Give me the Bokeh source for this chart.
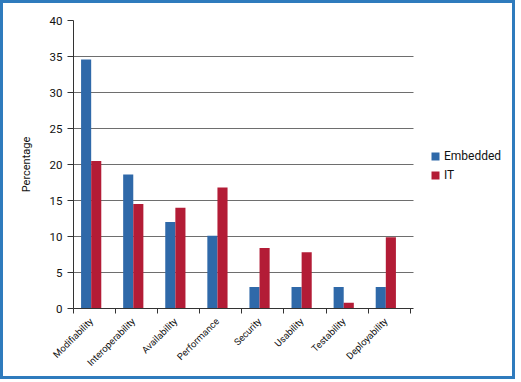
import math
from bokeh.plotting import figure
from bokeh.models import (ColumnDataSource, FixedTicker, Legend, LegendItem,
                          Range1d)
from bokeh.embed import file_html
from bokeh.resources import INLINE

categories = ["Modifiability", "Interoperability", "Availability", "Performance",
              "Security", "Usability", "Testability", "Deployability"]
embedded = [34.6, 18.6, 12.0, 10.1, 3.0, 3.0, 3.0, 3.0]
it = [20.5, 14.5, 14.0, 16.8, 8.4, 7.8, 0.8, 9.9]
y_ticks = [0, 5, 10, 15, 20, 25, 30, 35, 40]

FONT = "Roboto"
BLUE = "#2f69a9"
RED = "#b31c36"

n = len(categories)
center = 0.42
bw = 0.24
idx = list(range(n))
axis_end = n + 0.07
src = ColumnDataSource(dict(
    xb=[i + center - bw / 2 for i in idx],
    xr=[i + center + bw / 2 for i in idx],
    emb=embedded, it=it))

p = figure(frame_width=439, frame_height=288, output_backend="svg",
           toolbar_location=None,
           x_range=Range1d(0, 10.43), y_range=Range1d(0, 40),
           min_border_left=70, min_border_right=0, min_border_top=17,
           min_border_bottom=68)
p.styles = {"border": "3px solid #2f7bbd"}
p.outline_line_color = None
p.background_fill_color = "white"
p.border_fill_color = "white"

rb = p.vbar(x="xb", top="emb", width=bw, source=src, fill_color=BLUE, line_color=None)
rr = p.vbar(x="xr", top="it", width=bw, source=src, fill_color=RED, line_color=None)

# x axis
p.xaxis.bounds = (0, axis_end)
p.xaxis.ticker = FixedTicker(ticks=[i + center for i in idx],
                             minor_ticks=list(range(n + 1)))
p.xaxis.major_label_overrides = {i + center: c for i, c in zip(idx, categories)}
p.xaxis.major_label_orientation = math.pi / 4
p.xaxis.major_tick_line_color = None
p.xaxis.minor_tick_out = 5
p.xaxis.minor_tick_in = 0
p.xaxis.minor_tick_line_color = "#333333"
p.xaxis.axis_line_color = "#333333"
p.xaxis.major_label_text_font = FONT
p.xaxis.major_label_text_font_size = "9.5px"
p.xaxis.major_label_text_color = "#111111"
p.xaxis.major_label_standoff = 5

# y axis
p.yaxis.ticker = FixedTicker(ticks=y_ticks)
p.yaxis.minor_tick_line_color = None
p.yaxis.major_tick_out = 6
p.yaxis.major_tick_in = 0
p.yaxis.major_tick_line_color = "#333333"
p.yaxis.axis_line_color = "#333333"
p.yaxis.major_label_text_font = FONT
p.yaxis.major_label_text_font_size = "11.5px"
p.yaxis.major_label_text_color = "#111111"
p.yaxis.major_label_standoff = 5
p.yaxis.axis_label = "Percentage"
p.yaxis.axis_label_text_font = FONT
p.yaxis.axis_label_text_font_size = "11px"
p.yaxis.axis_label_text_font_style = "normal"
p.yaxis.axis_label_text_color = "#111111"
p.yaxis.axis_label_standoff = 14

p.xgrid.grid_line_color = None
p.ygrid.ticker = FixedTicker(ticks=y_ticks[1:])
p.ygrid.cross_bounds = (0, axis_end)
p.ygrid.grid_line_color = "#6e6e6e"
p.ygrid.grid_line_width = 1

legend = Legend(items=[LegendItem(label="Embedded", renderers=[rb]),
                       LegendItem(label="IT", renderers=[rr])],
                location=(357, 126), orientation="vertical")
legend.glyph_width = 10
legend.glyph_height = 10
legend.label_height = 10
legend.spacing = 5
legend.padding = 0
legend.margin = 0
legend.label_standoff = 4
legend.border_line_color = None
legend.background_fill_alpha = 0
legend.label_text_font = FONT
legend.label_text_font_size = "12px"
legend.label_text_color = "#111111"
p.add_layout(legend, "center")

open("out.html", "w").write(file_html(p, INLINE))
